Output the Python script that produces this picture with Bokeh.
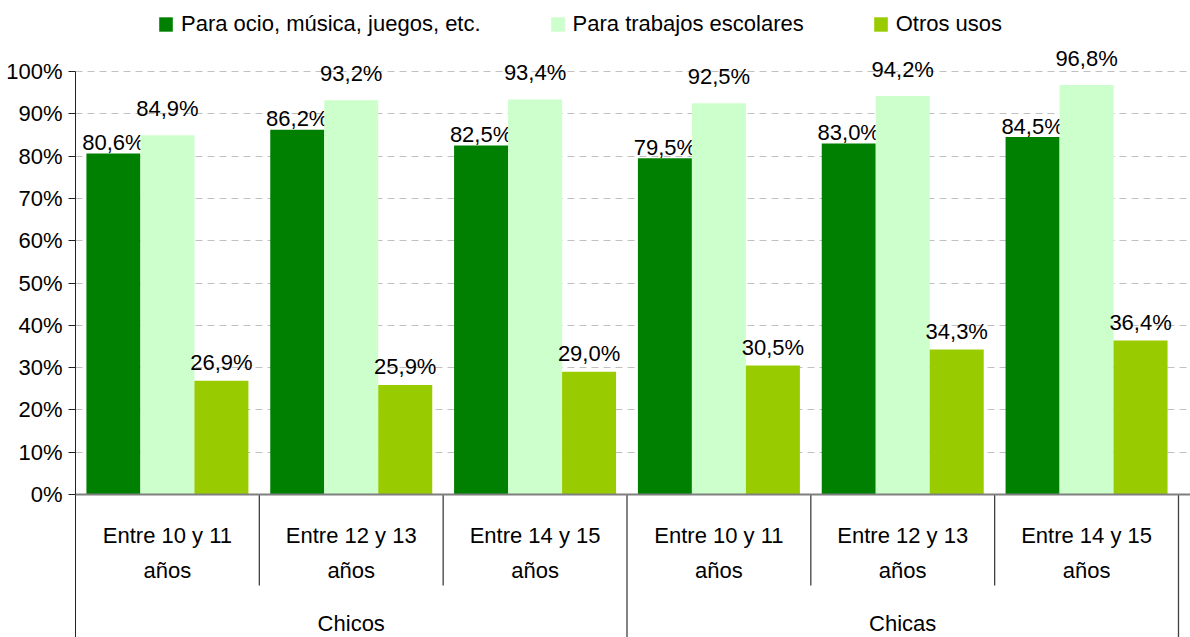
import numpy as np
from bokeh.plotting import figure
from bokeh.models import (Range1d, FixedTicker, Legend, LegendItem, Span,
                          PrintfTickFormatter)
from bokeh.core.properties import value
from bokeh.embed import file_html
from bokeh.resources import INLINE

# ---------------- data ----------------
ages = ["Entre 10 y 11\naños", "Entre 12 y 13\naños", "Entre 14 y 15\naños",
        "Entre 10 y 11\naños", "Entre 12 y 13\naños", "Entre 14 y 15\naños"]
groups = ["Chicos", "Chicas"]
series_names = ["Para ocio, música, juegos, etc.", "Para trabajos escolares", "Otros usos"]
ocio = [80.6, 86.2, 82.5, 79.5, 83.0, 84.5]
escolares = [84.9, 93.2, 93.4, 92.5, 94.2, 96.8]
otros = [26.9, 25.9, 29.0, 30.5, 34.3, 36.4]
y_ticks = [0, 10, 20, 30, 40, 50, 60, 70, 80, 90, 100]

# ---------------- style ----------------
FONT = "Liberation Sans"
FS = "22px"
colors = ["#008000", "#CCFFCC", "#99CC00"]
label_lift = [11, 27, 18]          # px from bar top to label centre

W, H = 1190, 637
left = 75
cat_px = 183.83
px_per_unit = 4.23
zero_px = 494
ymin = -(H - zero_px) / px_per_unit
ymax = zero_px / px_per_unit
xmax = -0.5 + (W - left) / cat_px
bw = 54 / cat_px

p = figure(width=W, height=H, x_range=Range1d(-0.5, xmax), y_range=Range1d(ymin, ymax),
           output_backend="svg", toolbar_location=None, x_axis_location=None,
           min_border_left=left, min_border_right=0, min_border_top=0, min_border_bottom=0)
p.outline_line_color = None
p.xgrid.visible = False
p.ygrid.ticker = FixedTicker(ticks=y_ticks[1:])
p.ygrid.grid_line_color = "#C0C0C0"
p.ygrid.grid_line_dash = "7 5"
p.ygrid.grid_line_width = 1

yax = p.yaxis[0]
yax.ticker = FixedTicker(ticks=y_ticks)
yax.formatter = PrintfTickFormatter(format="%d%%")
yax.bounds = (ymin, 100)
yax.axis_line_color = "#222222"
yax.major_tick_line_color = "#222222"
yax.major_tick_out = 7
yax.major_tick_in = 0
yax.minor_tick_line_color = None
yax.major_label_text_font = FONT
yax.major_label_text_font_size = FS
yax.major_label_text_color = "black"
yax.major_label_standoff = 6

xs = np.arange(len(ocio))
renderers = []
for k, (vals, col) in enumerate(zip([ocio, escolares, otros], colors)):
    xk = xs + (k - 1) * bw
    r = p.vbar(x=xk, top=vals, width=bw, bottom=0, fill_color=col, line_color=None)
    renderers.append(r)
    labels = [f"{v:.1f}%".replace(".", ",") for v in vals]
    p.text(x=xk, y=vals, text=labels, text_align="center", text_baseline="middle",
           y_offset=-label_lift[k], text_font=value(FONT), text_font_size=FS,
           text_color="black")

# baseline
p.add_layout(Span(location=0, dimension="width", line_color="#7F7F7F", line_width=2))

# category separators below axis
inner = [i + 0.5 for i in range(len(ages) - 1) if (i + 1) % 3 != 0]
outer = [i + 0.5 for i in range(len(ages)) if (i + 1) % 3 == 0]
sep_bottom = -21.5
p.segment(x0=inner, y0=[0] * len(inner), x1=inner, y1=[sep_bottom] * len(inner),
          line_color="#404040", line_width=1.3)
p.segment(x0=outer, y0=[0] * len(outer), x1=outer, y1=[ymin] * len(outer),
          line_color="#404040", line_width=1.3)

# category labels
p.text(x=xs, y=[0] * len(xs), text=ages, text_align="center", text_baseline="top",
       y_offset=28, text_font=value(FONT), text_font_size=FS, text_color="black",
       text_line_height=1.4)
gx = [np.mean(xs[i * 3:(i + 1) * 3]) for i in range(len(groups))]
p.text(x=gx, y=[0] * len(gx), text=groups, text_align="center", text_baseline="top",
       y_offset=116, text_font=value(FONT), text_font_size=FS, text_color="black")

legend = Legend(items=[LegendItem(label=n, renderers=[r]) for n, r in zip(series_names, renderers)],
                orientation="horizontal", location=(82, 600),
                border_line_color=None, background_fill_alpha=0,
                label_text_font=FONT, label_text_font_size=FS, label_text_color="black",
                glyph_width=17, glyph_height=18, label_standoff=7, spacing=68,
                padding=0, margin=0)
p.add_layout(legend)

open("out.html", "w").write(file_html(p, INLINE))
